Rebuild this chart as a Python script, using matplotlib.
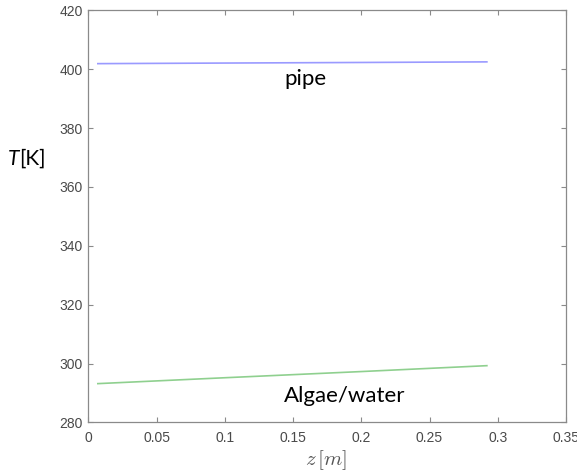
import matplotlib
matplotlib.use('Agg')
import matplotlib.pyplot as plt

# temperature profiles along the reactor
z_pipe = [0.007, 0.1, 0.2, 0.292]
T_pipe = [401.9, 402.1, 402.3, 402.5]
z_algae = [0.007, 0.1, 0.2, 0.292]
T_algae = [293.2, 295.2, 297.3, 299.3]

xticks = [0, 0.05, 0.1, 0.15, 0.2, 0.25, 0.3, 0.35]
xticklabels = ['0', '0.05', '0.1', '0.15', '0.2', '0.25', '0.3', '0.35']
yticks = [280, 300, 320, 340, 360, 380, 400, 420]

spine_col = '#8a8a8a'
tick_col = '#4a4a4a'

fig = plt.figure(figsize=(5.77, 4.71), dpi=100)
fig.patch.set_facecolor('white')
ax = fig.add_axes([0.153, 0.103, 0.828, 0.875])

ax.plot(z_pipe, T_pipe, color='#9a9aff', linewidth=1.2)
ax.plot(z_algae, T_algae, color='#8fd08f', linewidth=1.2)

ax.set_xlim(0, 0.35)
ax.set_ylim(280, 420)
ax.set_xticks(xticks)
ax.set_xticklabels(xticklabels)
ax.set_yticks(yticks)

for s in ax.spines.values():
    s.set_color(spine_col)
    s.set_linewidth(0.9)

ax.tick_params(axis='both', direction='in', length=3.5, width=0.8,
               color=spine_col, labelcolor=tick_col, labelsize=10,
               top=True, right=True)
ax.tick_params(axis='x', pad=6)
ax.tick_params(axis='y', pad=4)
for lbl in ax.get_xticklabels() + ax.get_yticklabels():
    lbl.set_family('Liberation Sans')

# curve labels
ax.text(0.159, 396.7, 'pipe', ha='center', va='center',
        fontsize=16, family='Lato', color='black')
ax.text(0.188, 288.9, 'Algae/water', ha='center', va='center',
        fontsize=16, family='Lato', color='black')

# axis labels
fig.text(326 / 577, 1 - 460 / 471, r'$z\,[m]$', ha='center', va='center',
         fontsize=15, color='#555555', math_fontfamily='cm')
fig.text(8 / 577, 1 - 159 / 471, 'T', ha='left', va='center',
         fontsize=15, family='Lato', style='italic', color='black')
fig.text(19 / 577, 1 - 159 / 471, '[K]', ha='left', va='center',
         fontsize=15, family='Lato', color='black')

fig.savefig('out.png', dpi=100, facecolor='white')
